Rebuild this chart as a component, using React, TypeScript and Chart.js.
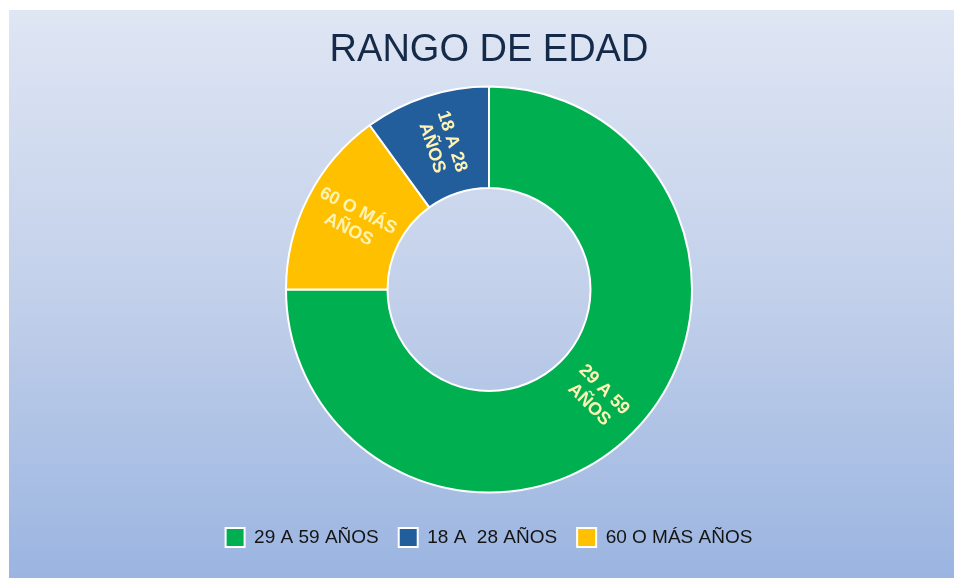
import React, { useEffect, useRef } from 'react';
import { Chart, registerables } from 'chart.js';

Chart.register(...registerables);

const title = 'RANGO DE EDAD';
const categories = ['29 A 59 AÑOS', '60 O MÁS AÑOS', '18 A  28 AÑOS'];
const values = [75, 15, 10];
const sliceLabels = [
  ['29 A 59', 'AÑOS'],
  ['60 O MÁS', 'AÑOS'],
  ['18 A 28', 'AÑOS'],
];
const legendOrder = ['29 A 59 AÑOS', '18 A  28 AÑOS', '60 O MÁS AÑOS'];
const colors = ['#00b050', '#ffc000', '#225e9c'];

const bgPlugin = {
  id: 'bgGradient',
  beforeDraw(chart: any) {
    const { ctx, width, height } = chart;
    const g = ctx.createLinearGradient(0, 0, 0, height);
    g.addColorStop(0, '#dfe6f4');
    g.addColorStop(0.5, '#c2d0ea');
    g.addColorStop(1, '#9bb5e1');
    ctx.save();
    ctx.fillStyle = g;
    ctx.fillRect(0, 0, width, height);
    ctx.restore();
  },
};

const sliceLabelPlugin = {
  id: 'sliceLabels',
  afterDatasetsDraw(chart: any) {
    const { ctx } = chart;
    const meta = chart.getDatasetMeta(0);
    ctx.save();
    ctx.font = 'bold 18px "Liberation Sans", Arial, sans-serif';
    ctx.fillStyle = '#fff3b4';
    ctx.textAlign = 'center';
    ctx.textBaseline = 'middle';
    meta.data.forEach((arc: any, i: number) => {
      const p = arc.getProps(['x', 'y', 'startAngle', 'endAngle', 'innerRadius', 'outerRadius'], true);
      const mid = (p.startAngle + p.endAngle) / 2;
      const r = (p.innerRadius + p.outerRadius) / 2;
      const x = p.x + Math.cos(mid) * r;
      const y = p.y + Math.sin(mid) * r;
      let rot = mid;
      const norm = ((mid % (2 * Math.PI)) + 2 * Math.PI) % (2 * Math.PI);
      if (norm > Math.PI / 2 && norm < (3 * Math.PI) / 2) rot = mid - Math.PI;
      ctx.save();
      ctx.translate(x, y);
      ctx.rotate(rot);
      const lines = sliceLabels[i];
      const lh = 21;
      lines.forEach((ln, k) => {
        ctx.fillText(ln, 0, (k - (lines.length - 1) / 2) * lh);
      });
      ctx.restore();
    });
    ctx.restore();
  },
};

export default function App() {
  const ref = useRef<HTMLCanvasElement>(null);
  useEffect(() => {
    if (!ref.current) return;
    const chart = new Chart(ref.current, {
      type: 'doughnut',
      data: {
        labels: categories,
        datasets: [
          {
            data: values,
            backgroundColor: colors,
            borderColor: '#ffffff',
            borderWidth: 2,
            radius: 203,
            cutout: '50%',
          } as any,
        ],
      },
      options: {
        animation: false,
        responsive: false,
        maintainAspectRatio: false,
        layout: { padding: { left: 15, right: 0, top: 0, bottom: 21 } },
        plugins: {
          title: {
            display: true,
            text: title,
            color: '#152a48',
            font: { family: '"Liberation Sans", Arial, sans-serif', size: 38, weight: 'normal', lineHeight: 1.0 },
            padding: { top: 22, bottom: 1 },
          },
          legend: {
            position: 'bottom',
            labels: {
              color: '#141414',
              font: { family: '"Liberation Sans", Arial, sans-serif', size: 19 },
              boxWidth: 19,
              boxHeight: 19,
              padding: 20,
              sort: (a: any, b: any) => legendOrder.indexOf(a.text) - legendOrder.indexOf(b.text),
            },
          },
          tooltip: { enabled: false },
        },
      },
      plugins: [bgPlugin, sliceLabelPlugin],
    });
    return () => chart.destroy();
  }, []);
  return (
    <div style={{ position: 'absolute', left: 9, top: 10, width: 945, height: 568 }}>
      <canvas ref={ref} width={945} height={568} style={{ display: 'block', width: 945, height: 568 }} />
    </div>
  );
}
